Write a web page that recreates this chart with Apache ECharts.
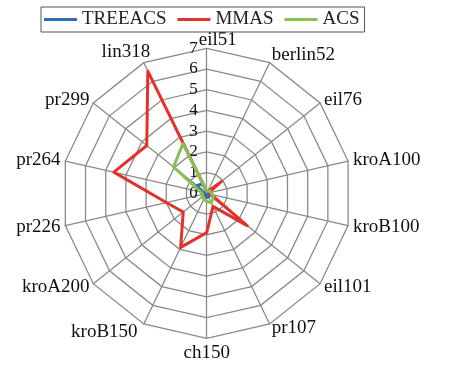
<!DOCTYPE html>
<html>
<head>
<meta charset="utf-8">
<script src="https://cdn.jsdelivr.net/npm/echarts@6/dist/echarts.min.js"></script>
<style>
html,body{margin:0;padding:0;background:#fff;}
#main{width:450px;height:368px;}
</style>
</head>
<body>
<div id="main"></div>
<script>
// instances, clockwise from the top
var instances = ['eil51','berlin52','eil76','kroA100','kroB100','eil101','pr107',
                 'ch150','kroB150','kroA200','pr226','pr264','pr299','lin318'];
var treeacs = [0.1,0.1,0.1,0.1,0.1,0.15,0.2,0.2,0.1,0.1,0.1,0.2,0.6,0.5];
var mmas    = [0.1,0.1,0.9,0.1,0.2,2.5,0.7,1.9,2.9,1.45,2.0,4.6,3.7,6.55];
var acs     = [0.1,0.1,0.2,0.2,0.3,0.4,0.5,0.4,0.3,0.3,0.2,0.3,2.05,2.65];
var ticks   = [0,1,2,3,4,5,6,7];

var FONT = '"Liberation Serif","DejaVu Serif",serif';

// echarts lays radar indicators out counter-clockwise, so flip the order
function cw(arr) {
    return [arr[0]].concat(arr.slice(1).reverse());
}

// small nudges so the names sit where excel put them
var nameStyle = {fontFamily: FONT, fontSize: 19, color: '#111'};
var rich = {
    n:   nameStyle,
    top: echarts.util.extend({lineHeight: 7, padding: [0, 0, 0, 22]}, nameStyle),
    b52: echarts.util.extend({padding: [0, 0, 6, 0]}, nameStyle),
    lin: echarts.util.extend({width: 40, align: 'left', padding: [0, 0, 12, 0]}, nameStyle),
    kb:  echarts.util.extend({padding: [8, 4, 0, 0]}, nameStyle)
};
var richKey = {eil51: 'top', berlin52: 'b52', lin318: 'lin', kroB150: 'kb'};

var myChart = echarts.init(document.getElementById('main'));

var option = {
    backgroundColor: '#fff',
    animation: false,
    color: ['#2f6db4','#e2322b','#86c154'],
    legend: {
        left: 41,
        top: 7,
        padding: [3, 5, 3, 3],
        borderColor: '#555',
        borderWidth: 1,
        itemGap: 11,
        itemWidth: 33,
        itemHeight: 3,
        icon: 'rect',
        textStyle: {fontFamily: FONT, fontSize: 19, color: '#222'},
        data: ['TREEACS','MMAS','ACS']
    },
    radar: {
        center: [206.7, 193.3],
        radius: 145,
        startAngle: 90,
        splitNumber: 7,
        shape: 'polygon',
        axisName: {
            color: '#111', fontFamily: FONT, fontSize: 19,
            formatter: function (name) {
                return '{' + (richKey[name] || 'n') + '|' + name + '}';
            },
            rich: rich
        },
        nameGap: 5,
        axisLine: {lineStyle: {color: '#8a8a8a', width: 1.3}},
        splitLine: {lineStyle: {color: '#8a8a8a', width: 1.3}},
        splitArea: {show: false},
        axisTick: {show: false},
        axisLabel: {show: false},
        indicator: cw(instances).map(function (n) { return {name: n, min: 0, max: 7}; })
    },
    grid: {left: 206.7, top: 48.3, height: 145, width: 10},
    xAxis: {type: 'value', show: false},
    yAxis: {
        type: 'value', min: ticks[0], max: ticks[ticks.length-1], interval: 1,
        axisLine: {show: false}, axisTick: {show: false}, splitLine: {show: false},
        axisLabel: {fontFamily: FONT, fontSize: 17, color: '#111', margin: 9, padding: [0, 0, 4, 0]}
    },
    series: [{
        type: 'radar',
        symbol: 'none',
        lineStyle: {width: 3},
        data: [
            {name: 'TREEACS', value: cw(treeacs), lineStyle: {width: 3, color: '#2f6db4'}},
            {name: 'MMAS', value: cw(mmas), lineStyle: {width: 3, color: '#e2322b'}},
            {name: 'ACS', value: cw(acs), lineStyle: {width: 3, color: '#86c154'}}
        ]
    }]
};

myChart.setOption(option);
</script>
</body>
</html>
